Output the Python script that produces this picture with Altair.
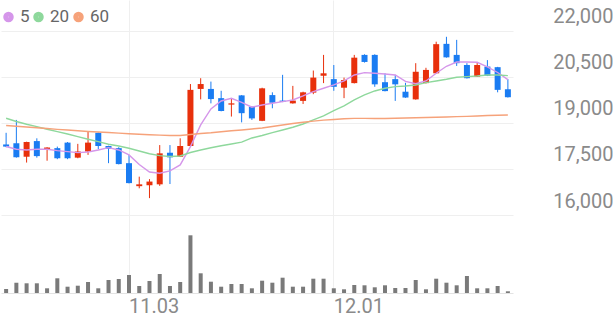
import altair as alt
import pandas as pd

# ---- data ----
dates = ["10.16","10.17","10.20","10.21","10.22","10.23","10.24","10.27","10.28","10.29","10.30","10.31",
         "11.03","11.04","11.05","11.06","11.07","11.10","11.11","11.12","11.13","11.14","11.17","11.18",
         "11.19","11.20","11.21","11.24","11.25","11.26","11.27","11.28",
         "12.01","12.02","12.03","12.04","12.05","12.08","12.09","12.10","12.11","12.12","12.15","12.16",
         "12.17","12.18","12.19","12.22","12.23","12.24"]

open_ = [18300,18340,17900,18410,18140,18180,18360,17870,18070,18680,18250,18180,
         17690,16940,16970,17000,18030,17900,18250,20110,20110,19810,19600,19900,
         19530,19070,19910,19730,19640,19720,19990,20540,
         20430,20150,20300,21220,21220,20330,20430,20020,19770,20300,20620,21580,
         21220,20890,20510,20840,20820,20100]
high = [18680,19100,18390,18500,18210,18230,18380,18320,18710,18690,18260,18210,
        17960,17250,17170,18280,18280,18500,20270,20460,20350,20050,19810,19910,
        19540,20150,20000,20570,20210,20020,20710,21220,
        20890,20480,21220,21240,21240,20620,20570,20310,20950,20800,21650,21810,
        21710,20950,20980,21050,20830,20430]
low = [18210,17870,17710,17870,17770,17820,17820,17850,17960,18140,17690,17650,
       17030,16870,16550,16950,17010,17890,18240,19770,19640,19380,19210,19020,
       19100,19060,19480,19680,19630,19620,19940,20300,
       20050,19810,20290,20970,20180,20030,19720,19820,19760,20290,20610,21130,
       20860,20450,20500,20530,20000,19830]
close = [18230,17880,18380,17920,18200,17850,17850,18070,18360,18250,18160,17660,
         17040,17000,17090,18010,17880,18250,20080,20270,19780,19390,19640,19320,
         19150,20130,19660,19690,19730,20000,20480,20620,
         20180,20400,21130,20990,20260,20040,20260,19830,20670,20730,21570,21140,
         20950,20460,20890,20540,20080,19840]

ma5 = [18235,18143,18121,18143,18143,18098,18065,18033,18056,18121,18196,18121,
       17958,17648,17403,17361,17436,17632,18228,18936,19457,19718,19806,19669,
       19513,19588,19643,19695,19751,19881,20021,20132,
       20240,20370,20566,20641,20621,20598,20566,20354,20279,20370,20621,20849,
       20989,20989,20980,20826,20647,20412]
ma20 = [19154,19050,18958,18880,18795,18717,18642,18554,18470,18391,18307,18251,
        18176,18088,17997,17935,17909,17925,18039,18121,18192,18257,18316,18375,
        18512,18593,18685,18773,18861,18968,19099,19229,
        19402,19555,19751,19914,20044,20132,20184,20207,20240,20315,20370,20425,
        20491,20510,20533,20566,20566,20543]
ma60 = [18919,18893,18870,18844,18818,18792,18773,18747,18724,18707,18688,18668,
        18649,18632,18616,18603,18593,18593,18626,18659,18681,18714,18747,18773,
        18805,18838,18887,18936,18985,19024,19060,19092,
        19115,19138,19151,19151,19148,19148,19155,19164,19171,19177,19187,19197,
        19207,19216,19229,19242,19252,19262]

volume_k = [40,103,97,97,47,147,63,73,110,47,130,140,180,70,120,190,70,110,577,197,
            113,63,90,90,47,123,103,153,63,63,143,143,47,37,80,77,57,77,50,50,
            130,37,143,103,77,170,47,47,70,17]

price_ticks = [16000, 17500, 19000, 20500, 22000]
date_ticks = ["11.03", "12.01"]
ma_names = ["5", "20", "60"]
ma_colors = ["#d596ea", "#8ed89c", "#f6a27a"]
up_color = "#e8300c"
down_color = "#1a7cf2"

# ---- tables ----
ohlc = pd.DataFrame({"date": dates, "open": open_, "high": high, "low": low,
                     "close": close, "volume": volume_k})
ma_df = pd.concat([
    pd.DataFrame({"date": dates, "ma": name, "value": vals})
    for name, vals in zip(ma_names, [ma5, ma20, ma60])
])

W = 512
font = "Roboto"
grid_color = "#efefef"

xscale = alt.Scale(type="band", domain=dates, paddingInner=0, paddingOuter=0)
yscale = alt.Scale(domain=[16000, 23010], nice=False, zero=False)

x_price = alt.X("date:O", scale=xscale, sort=dates,
                axis=alt.Axis(values=date_ticks, labels=False, ticks=False, domain=False,
                              grid=True, gridColor=grid_color, title=None))

candle_color = alt.condition("datum.close >= datum.open", alt.value(up_color), alt.value(down_color))

wicks = alt.Chart(ohlc).mark_rule(strokeWidth=1).encode(
    x=x_price,
    y=alt.Y("low:Q", scale=yscale,
            axis=alt.Axis(orient="right", values=price_ticks, format=",d", title=None,
                          ticks=False, tickSize=0, domain=False, grid=True, gridColor=grid_color,
                          labelAlign="right", labelPadding=100, labelOffset=-14,
                          labelFontSize=20, labelColor="#8a8a8a", labelFont=font)),
    y2="high:Q",
    color=candle_color,
)

bodies = alt.Chart(ohlc).mark_bar(size=6).encode(
    x=x_price,
    y=alt.Y("open:Q", scale=yscale),
    y2="close:Q",
    color=candle_color,
)

lines = alt.Chart(ma_df).mark_line(strokeWidth=1.4).encode(
    x=x_price,
    y=alt.Y("value:Q", scale=yscale),
    color=alt.Color("ma:N", scale=alt.Scale(domain=ma_names, range=ma_colors),
                    legend=alt.Legend(orient="none", legendX=-1, legendY=8, direction="horizontal",
                                      title=None, symbolType="circle", symbolSize=24,
                                      symbolStrokeWidth=5.6, symbolOpacity=1,
                                      labelFontSize=17, labelColor="#666666", labelFont=font,
                                      labelOffset=3, columnPadding=-9)),
    detail="ma:N",
)

price = alt.layer(wicks, bodies, lines).properties(width=W, height=215)

volume = alt.Chart(ohlc).mark_bar(size=4, color="#7a7a7a").encode(
    x=alt.X("date:O", scale=xscale, sort=dates,
            axis=alt.Axis(values=date_ticks, ticks=False, tickSize=0, domain=True,
                          domainColor="#e3e3e3", grid=True, gridColor=grid_color, title=None,
                          labelAngle=0, labelAlign="left", labelPadding=3, labelFontSize=20,
                          labelColor="#8a8a8a", labelFont=font)),
    y=alt.Y("volume:Q", scale=alt.Scale(domain=[0, 780], nice=False), axis=None),
).properties(width=W, height=78)

chart = alt.vconcat(price, volume, spacing=0).properties(
    padding={"left": 0, "top": 0, "right": 0, "bottom": 0}
).configure(font=font).configure_view(stroke=None)

chart.save("out.html", embed_options={"renderer": "svg", "actions": False})
